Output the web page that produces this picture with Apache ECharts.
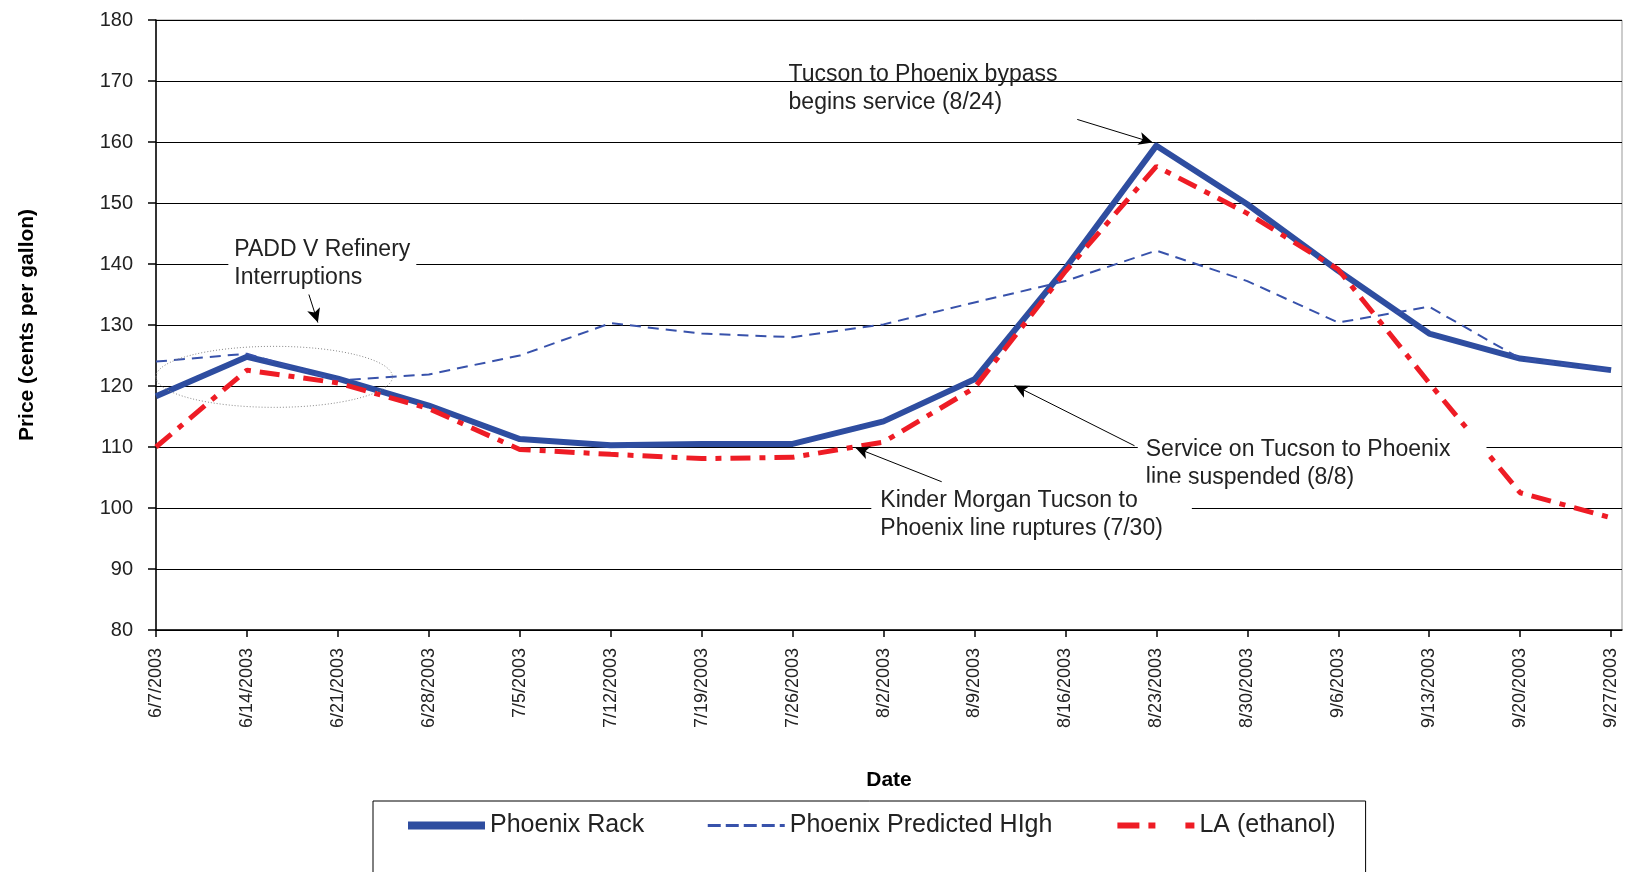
<!DOCTYPE html>
<html><head><meta charset="utf-8">
<script src="https://cdn.jsdelivr.net/npm/echarts@6/dist/echarts.min.js"></script>
<style>html,body{margin:0;padding:0;background:#fff}#c{width:1632px;height:872px}</style>
</head><body><div id="c"></div>
<script>
const dates = ['6/7/2003','6/14/2003','6/21/2003','6/28/2003','7/5/2003','7/12/2003','7/19/2003','7/26/2003','8/2/2003','8/9/2003','8/16/2003','8/23/2003','8/30/2003','9/6/2003','9/13/2003','9/20/2003','9/27/2003'];
const phoenixRack = [118.3,124.8,121.2,116.8,111.3,110.3,110.5,110.5,114.2,121.1,139.3,159.4,149.8,138.9,128.6,124.5,122.6];
const phoenixPredictedHigh = [124.0,125.3,120.9,121.9,125.0,130.3,128.6,128.0,130.1,133.7,137.2,142.2,137.2,130.4,133.0,124.5,122.6];
const laEthanol = [110.0,122.6,120.5,116.3,109.6,108.8,108.1,108.3,110.8,119.7,138.8,156.0,148.3,139.1,120.5,102.5,98.4];
const seriesNames = ['Phoenix Rack','Phoenix Predicted HIgh','LA (ethanol)'];
const yMin = 80, yMax = 180, yInterval = 10;

// annotations in data coordinates: [category index, price]
const annotations = [
  {text:'PADD V Refinery\nInterruptions', at:[0.79,140.1], from:[1.64,136.9], to:[1.78,130.4], bg:'#fff', pad:[3,6,3,6]},
  {text:'Tucson to Phoenix bypass\nbegins service (8/24)', at:[6.95,168.7], from:[10.13,163.7], to:[10.96,159.9], bg:'transparent', pad:[0,0,0,0]},
  {text:'Service on Tucson to Phoenix\nline suspended (8/8)', at:[10.79,107.2], from:[10.76,110.2], to:[9.44,120.1], bg:'#fff', pad:[4,36,4,8]},
  {text:'Kinder Morgan Tucson to\nPhoenix line ruptures (7/30)', at:[7.86,98.9], from:[8.64,104.3], to:[7.69,109.9], bg:'#fff', pad:[4,29,4,9]}
];
const ellipse = {center:[1.30,121.5], rx:1.30, ry:5.0};

const FONT = '"Liberation Sans", Arial, sans-serif';
const pts = arr => arr.map((v,i)=>[i,v]);
const idx = dates.map((d,i)=>i);

const chart = echarts.init(document.getElementById('c'), null, {renderer:'canvas'});
chart.setOption({
  animation:false,
  backgroundColor:'#fff',
  textStyle:{fontFamily:FONT},
  grid:{left:156, right:10, top:20, bottom:242, show:true, borderColor:'#999', borderWidth:1, backgroundColor:'transparent'},
  xAxis:{
    type:'value', min:0, max:16.12, interval:1,
    name:'Date', nameLocation:'middle', nameGap:140,
    nameTextStyle:{fontSize:21, fontWeight:'bold', color:'#000', fontFamily:FONT},
    axisLine:{show:true, onZero:false, lineStyle:{color:'#000', width:1.5}},
    axisTick:{show:true, length:7, lineStyle:{color:'#000', width:1.5}, customValues:idx},
    axisLabel:{rotate:90, fontSize:18, color:'#222', margin:18, fontFamily:FONT, customValues:idx,
      formatter:v => dates[Math.round(v)] || ''},
    splitLine:{show:false}
  },
  yAxis:{
    type:'value', min:yMin, max:yMax, interval:yInterval,
    name:'Price (cents per gallon)', nameLocation:'middle', nameGap:118, nameRotate:90,
    nameTextStyle:{fontSize:21, fontWeight:'bold', color:'#000', fontFamily:FONT},
    axisLine:{show:true, lineStyle:{color:'#000', width:1.5}},
    axisTick:{show:true, length:8, lineStyle:{color:'#000', width:1.5}},
    axisLabel:{fontSize:20, color:'#222', margin:23, fontFamily:FONT},
    splitLine:{show:true, lineStyle:{color:'#000', width:1.2}}
  },
  legend:{
    data:[
      {name:seriesNames[0], lineStyle:{width:8}},
      {name:seriesNames[1], lineStyle:{width:3, type:[13,5]}},
      {name:seriesNames[2], lineStyle:{width:6, type:[22,9,7,30]}}
    ],
    left:373, top:801, orient:'horizontal',
    borderColor:'#000', borderWidth:1, padding:[12,30,40,31],
    itemGap:62, itemWidth:77, itemHeight:14,
    itemStyle:{opacity:0},
    textStyle:{fontSize:25, color:'#222', fontFamily:FONT}
  },
  series:[
    {name:seriesNames[0], type:'line', data:pts(phoenixRack), symbol:'none', z:2,
      lineStyle:{color:'#2e4da0', width:6, join:'round'}, itemStyle:{color:'#2e4da0'}},
    {name:seriesNames[1], type:'line', data:pts(phoenixPredictedHigh), symbol:'none', z:3,
      lineStyle:{color:'#3852ab', width:2, type:[11,7]}, itemStyle:{color:'#3852ab'}},
    {name:seriesNames[2], type:'line', data:pts(laEthanol), symbol:'none', z:4,
      lineStyle:{color:'#ee1c25', width:5, type:[20,9,6,9]}, itemStyle:{color:'#ee1c25'}},
    {name:'annotations', type:'line', data:[], symbol:'none', z:6, silent:true,
      markLine:{silent:true, symbol:['none','arrow'], symbolSize:[10,14], animation:false,
        label:{show:false}, lineStyle:{color:'#000', width:1, type:'solid'},
        emphasis:{disabled:true},
        data:annotations.map(a=>[{coord:a.from},{coord:a.to}])},
      markPoint:{silent:true, animation:false, symbol:'rect', symbolSize:1,
        itemStyle:{color:'rgba(0,0,0,0)'},
        data:annotations.map(a=>({coord:a.at, name:a.text,
          label:{show:true, position:'right', distance:0, formatter:a.text, color:'#222',
            fontSize:23, lineHeight:28, fontFamily:FONT, align:'left',
            backgroundColor:a.bg, padding:a.pad}}))}
    }
  ]
});

const c = chart.convertToPixel({gridIndex:0}, ellipse.center);
const ex = chart.convertToPixel({gridIndex:0}, [ellipse.center[0]+ellipse.rx, ellipse.center[1]+ellipse.ry]);
chart.setOption({graphic:[{type:'ellipse', silent:true, z:100,
  shape:{cx:c[0], cy:c[1], rx:Math.abs(ex[0]-c[0]), ry:Math.abs(ex[1]-c[1])},
  style:{fill:'none', stroke:'#888', lineWidth:1, lineDash:[1,2]}}]});
</script>
</body></html>
